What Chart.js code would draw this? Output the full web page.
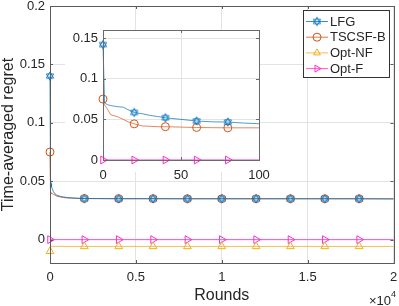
<!DOCTYPE html>
<html>
<head>
<meta charset="utf-8">
<script src="https://cdn.jsdelivr.net/npm/chart.js@4.4.1/dist/chart.umd.min.js"></script>
<style>
  body { margin: 0; background: #fff; }
  #wrap { position: relative; width: 399px; height: 306px; }
  #main { position: absolute; left: 0; top: 0; }
  #inset { position: absolute; left: 60px; top: 20px; }
</style>
</head>
<body>
<div id="wrap">
  <canvas id="main" width="399" height="306"></canvas>
  <canvas id="inset" width="210" height="165"></canvas>
</div>
<script>
// series names
var seriesNames = ["LFG", "TSCSF-B", "Opt-NF", "Opt-F"];

// main plot data (rounds 0 .. 2e4)
var roundsMain = [0, 20, 40, 60, 80, 100, 150, 200, 300, 400, 600, 800, 1000, 1500, 2000, 4000, 6000, 8000, 10000, 12000, 14000, 16000, 18000, 20000];
var lfgMain = [0.14, 0.058, 0.052, 0.048, 0.047, 0.045, 0.043, 0.041, 0.039, 0.038, 0.037, 0.0365, 0.036, 0.0355, 0.0352, 0.035, 0.035, 0.035, 0.035, 0.035, 0.035, 0.035, 0.035, 0.0348];
var tscsfMain = [0.075, 0.0445, 0.041, 0.040, 0.0396, 0.0396, 0.0392, 0.0388, 0.038, 0.0372, 0.0365, 0.036, 0.0357, 0.0354, 0.0352, 0.0351, 0.0351, 0.035, 0.035, 0.035, 0.035, 0.035, 0.035, 0.035];
var optNFMain = [-0.010, -0.0058, -0.0058, -0.0058, -0.0058, -0.0058, -0.0058, -0.0058, -0.0058, -0.0058, -0.0058, -0.0058, -0.0058, -0.0058, -0.0058, -0.0058, -0.0058, -0.0058, -0.0058, -0.0058, -0.0058, -0.0058, -0.0058, -0.0058];
var optFMain = [0, 0, 0, 0, 0, 0, 0, 0, 0, 0, 0, 0, 0, 0, 0, 0, 0, 0, 0, 0, 0, 0, 0, 0];
var markerRoundsMain = [0, 2000, 4000, 6000, 8000, 10000, 12000, 14000, 16000, 18000];
var xTicksMain = [0, 5000, 10000, 15000, 20000];
var yTicksMain = [0, 0.05, 0.1, 0.15, 0.2];

// inset data (rounds 0 .. 100)
var roundsInset = [0, 1, 2, 3, 5, 8, 10, 13, 16, 20, 25, 30, 35, 40, 50, 60, 70, 80, 90, 100];
var lfgInset = [0.142, 0.071, 0.069, 0.068, 0.067, 0.066, 0.0655, 0.065, 0.062, 0.0585, 0.057, 0.055, 0.0535, 0.052, 0.050, 0.048, 0.047, 0.0467, 0.0455, 0.0446];
var tscsfInset = [0.075, 0.068, 0.065, 0.062, 0.0556, 0.054, 0.0527, 0.050, 0.047, 0.0445, 0.042, 0.0415, 0.041, 0.041, 0.0405, 0.040, 0.0398, 0.0396, 0.0396, 0.0396];
var optFInset = [0, 0, 0, 0, 0, 0, 0, 0, 0, 0, 0, 0, 0, 0, 0, 0, 0, 0, 0, 0];
var markerRoundsInset = [0, 20, 40, 60, 80];
var xTicksInset = [0, 50, 100];
var yTicksInset = [0, 0.05, 0.1, 0.15];

var cores = ["#0072BD", "#D95319", "#EDB120", "#FF2ECF"];
var fonte = "'Liberation Sans', Arial, sans-serif";
var corTexto = "#262626";
var corGrade = "#e3e3e3";

// hexagram marker (MATLAB 'h')
function criarHexagrama(cor, r) {
    var c = document.createElement("canvas");
    var s = Math.ceil(r * 2 + 3);
    c.width = s; c.height = s;
    var g = c.getContext("2d");
    g.strokeStyle = cor;
    g.lineWidth = 0.9;
    var cx = s / 2, cy = s / 2;
    for (var t = 0; t < 2; t++) {
        g.beginPath();
        for (var k = 0; k < 3; k++) {
            var a = -Math.PI / 2 + t * Math.PI + k * 2 * Math.PI / 3;
            var px = cx + r * Math.cos(a), py = cy + r * Math.sin(a);
            if (k === 0) g.moveTo(px, py); else g.lineTo(px, py);
        }
        g.closePath();
        g.stroke();
    }
    return c;
}
var estrela = criarHexagrama(cores[0], 4.2);
var estilos = [
    { pointStyle: estrela, rotation: 0 },
    { pointStyle: "circle", rotation: 0 },
    { pointStyle: "triangle", rotation: 0 },
    { pointStyle: "triangle", rotation: 90 }
];

function montarPontos(xs, ys) {
    return xs.map(function (x, i) { return { x: x, y: ys[i] }; });
}

function montarSerie(i, xs, ys, marcas, largura, raio) {
    return {
        label: seriesNames[i],
        data: montarPontos(xs, ys),
        borderColor: cores[i],
        backgroundColor: "rgba(0,0,0,0)",
        borderWidth: largura,
        pointStyle: estilos[i].pointStyle,
        rotation: estilos[i].rotation,
        pointBorderColor: cores[i],
        pointBackgroundColor: "rgba(0,0,0,0)",
        pointBorderWidth: 1,
        pointRadius: function (ctx) {
            return ctx.raw && marcas.indexOf(ctx.raw.x) >= 0 ? raio : 0;
        },
        tension: 0,
        fill: false,
        clip: 6
    };
}

function fmt(v) { return String(+v.toFixed(3)); }

// box + inward ticks, MATLAB style
var pluginCaixa = {
    id: "caixa",
    afterDraw: function (chart, args, opts) {
        var a = chart.chartArea, ctx = chart.ctx;
        var sx = chart.scales.x, sy = chart.scales.y;
        ctx.save();
        ctx.strokeStyle = opts.cor || "#555";
        ctx.lineWidth = 1;
        ctx.beginPath();
        sx.ticks.forEach(function (t) {
            var px = Math.round(sx.getPixelForValue(t.value)) + 0.5;
            ctx.moveTo(px, a.bottom); ctx.lineTo(px, a.bottom - 3);
            ctx.moveTo(px, a.top); ctx.lineTo(px, a.top + 3);
        });
        sy.ticks.forEach(function (t) {
            var py = Math.round(sy.getPixelForValue(t.value)) + 0.5;
            ctx.moveTo(a.left, py); ctx.lineTo(a.left + 3, py);
            ctx.moveTo(a.right, py); ctx.lineTo(a.right - 3, py);
        });
        ctx.stroke();
        ctx.strokeRect(Math.round(a.left) + 0.5, Math.round(a.top) + 0.5, Math.round(a.right - a.left), Math.round(a.bottom - a.top));
        ctx.restore();
    }
};

// legend box and x10^4 note on the main plot
var pluginLegenda = {
    id: "legendaMatlab",
    afterDraw: function (chart) {
        var ctx = chart.ctx;
        ctx.save();
        ctx.fillStyle = "#fff";
        ctx.fillRect(303, 10, 86, 67);
        ctx.strokeStyle = "#333";
        ctx.lineWidth = 1;
        ctx.strokeRect(303.5, 10.5, 86, 67);
        ctx.font = "13px " + fonte;
        ctx.textBaseline = "middle";
        ctx.textAlign = "left";
        seriesNames.forEach(function (nome, i) {
            var y = 21.5 + i * 15.7;
            ctx.strokeStyle = cores[i];
            ctx.fillStyle = "rgba(0,0,0,0)";
            ctx.lineWidth = 0.8;
            ctx.beginPath();
            ctx.moveTo(306, y); ctx.lineTo(328, y);
            ctx.stroke();
            ctx.lineWidth = 1;
            Chart.helpers.drawPoint(ctx, {
                pointStyle: estilos[i].pointStyle,
                rotation: estilos[i].rotation,
                radius: 4,
                borderWidth: 1
            }, 317, y);
            ctx.fillStyle = corTexto;
            ctx.fillText(nome, 330, y + 0.5);
        });
        // multiplier
        ctx.textBaseline = "alphabetic";
        ctx.textAlign = "right";
        ctx.font = "13px " + fonte;
        ctx.fillText("\u00d710", 391, 305);
        ctx.textAlign = "left";
        ctx.font = "9px " + fonte;
        ctx.fillText("4", 391, 297);
        ctx.restore();
    }
};

// white panel behind the inset
var pluginFundo = {
    id: "fundo",
    beforeDraw: function (chart) {
        var ctx = chart.ctx;
        ctx.save();
        ctx.fillStyle = "#fff";
        ctx.fillRect(5, 10, 194, 142);
        ctx.restore();
    }
};

function semPaddingX(h) {
    return function (s) { s.height = h; s.paddingLeft = 0; s.paddingRight = 0; };
}
function semPaddingY(w) {
    return function (s) { s.width = w; s.paddingTop = 0; s.paddingBottom = 0; };
}

new Chart(document.getElementById("main"), {
    type: "line",
    data: {
        datasets: [
            montarSerie(0, roundsMain, lfgMain, markerRoundsMain, 0.8, 4),
            montarSerie(1, roundsMain, tscsfMain, markerRoundsMain, 0.8, 4),
            montarSerie(2, roundsMain, optNFMain, markerRoundsMain, 0.8, 4.5),
            montarSerie(3, roundsMain, optFMain, markerRoundsMain, 0.8, 4.5)
        ]
    },
    options: {
        responsive: false,
        devicePixelRatio: 1,
        animation: false,
        events: [],
        layout: { padding: { left: 0, top: 6, right: 4, bottom: 0 } },
        plugins: {
            legend: { display: false },
            tooltip: { enabled: false },
            caixa: { cor: "#5a5a5a" }
        },
        scales: {
            x: {
                type: "linear",
                min: 0,
                max: 20000,
                afterBuildTicks: function (s) { s.ticks = xTicksMain.map(function (v) { return { value: v }; }); },
                afterFit: semPaddingX(43),
                ticks: {
                    color: corTexto,
                    font: { family: fonte, size: 13 },
                    padding: 7,
                    maxRotation: 0,
                    callback: function (v) { return fmt(v / 10000); }
                },
                grid: { color: corGrade, drawTicks: false },
                border: { display: false },
                title: { display: true, text: "Rounds", color: corTexto, font: { family: fonte, size: 16 }, padding: { top: 0, bottom: 1 } }
            },
            y: {
                type: "linear",
                min: -0.02,
                max: 0.2,
                afterBuildTicks: function (s) { s.ticks = yTicksMain.map(function (v) { return { value: v }; }); },
                afterFit: semPaddingY(50),
                ticks: {
                    color: corTexto,
                    font: { family: fonte, size: 13 },
                    padding: 5,
                    callback: function (v) { return fmt(v); }
                },
                grid: { color: corGrade, drawTicks: false },
                border: { display: false },
                title: { display: true, text: "Time-averaged regret", color: corTexto, font: { family: fonte, size: 16 }, padding: { top: -1, bottom: 0 } }
            }
        }
    },
    plugins: [pluginCaixa, pluginLegenda]
});

new Chart(document.getElementById("inset"), {
    type: "line",
    data: {
        datasets: [
            montarSerie(0, roundsInset, lfgInset, markerRoundsInset, 0.7, 4),
            montarSerie(1, roundsInset, tscsfInset, markerRoundsInset, 0.7, 4),
            montarSerie(3, roundsInset, optFInset, markerRoundsInset, 1, 4.5)
        ]
    },
    options: {
        responsive: false,
        devicePixelRatio: 1,
        animation: false,
        events: [],
        layout: { padding: { left: 0, top: 10, right: 11, bottom: 0 } },
        plugins: {
            legend: { display: false },
            tooltip: { enabled: false },
            caixa: { cor: "#6a6a6a" }
        },
        scales: {
            x: {
                type: "linear",
                min: 0,
                max: 100,
                afterBuildTicks: function (s) { s.ticks = xTicksInset.map(function (v) { return { value: v }; }); },
                afterFit: semPaddingX(25),
                ticks: {
                    color: corTexto,
                    font: { family: fonte, size: 13 },
                    padding: 8,
                    maxRotation: 0,
                    callback: function (v) { return fmt(v); }
                },
                grid: { color: corGrade, drawTicks: false },
                border: { display: false }
            },
            y: {
                type: "linear",
                min: 0,
                max: 0.16,
                afterBuildTicks: function (s) { s.ticks = yTicksInset.map(function (v) { return { value: v }; }); },
                afterFit: semPaddingY(43),
                ticks: {
                    color: corTexto,
                    font: { family: fonte, size: 13 },
                    padding: 5,
                    callback: function (v) { return fmt(v); }
                },
                grid: { color: corGrade, drawTicks: false },
                border: { display: false }
            }
        }
    },
    plugins: [pluginFundo, pluginCaixa]
});
</script>
</body>
</html>
